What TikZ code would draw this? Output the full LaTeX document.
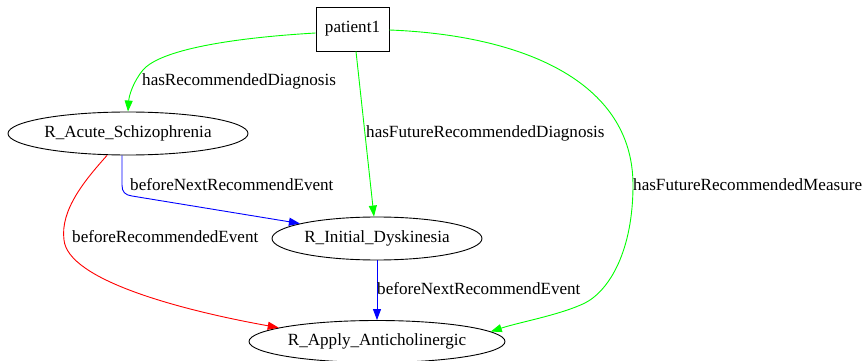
\documentclass[tikz,border=0pt]{standalone}
\usepackage{fontspec}
\setmainfont{Liberation Serif}
\usetikzlibrary{arrows.meta,shapes.geometric}
\begin{document}
\begin{tikzpicture}[x=1pt,y=-1pt,
  every node/.style={font=\fontsize{17.1}{19}\selectfont, inner sep=0pt},
  ell/.style={ellipse, draw, line width=0.9pt},
  boxnode/.style={rectangle, draw, line width=0.9pt, minimum width=73pt, minimum height=44pt},
  lbl/.style={anchor=base west},
  edge/.style={line width=0.9pt, -{Triangle[length=11pt,width=8pt]}},
  gedge/.style={edge, draw={rgb,255:red,0;green,255;blue,0}},
  bedge/.style={edge, draw=blue},
  redge/.style={edge, draw=red}]
\useasboundingbox (0,0) rectangle (863,361);
\node[boxnode] (p) at (352.5,29) {patient1};
\node[ell, minimum width=240pt, minimum height=43pt] (a) at (128,133.5) {R\_Acute\_Schizophrenia};
\node[ell, minimum width=210pt, minimum height=43pt] (i) at (377,238.5) {R\_Initial\_Dyskinesia};
\node[ell, minimum width=256pt, minimum height=42pt] (ap) at (377,341.5) {R\_Apply\_Anticholinergic};
% edges
\draw[gedge] ([yshift=-4pt]p.west) .. controls (230,38) and (160,50) .. (143,70) .. controls (133,82) and (129,96) .. (a.north);
\draw[gedge] ([xshift=3.5pt]p.south) -- ([xshift=-3pt]i.north);
\draw[gedge] ([yshift=-1pt]p.east) .. controls (520,35) and (633,80) .. (633,185) .. controls (633,250) and (610,290) .. (585,303) .. controls (560,315) and (520,322) .. (ap.5.6);
\draw[bedge] ([xshift=-6pt]a.south) -- (122,185) .. controls (122,192) and (125,195) .. (132,196) -- (i.169);
\draw[redge] ([xshift=-21pt]a.south) .. controls (85,180) and (60,210) .. (64,240) .. controls (68,280) and (180,310) .. (ap.172);
\draw[bedge] (i.south) -- (ap.north);
% labels
\node[lbl] (l1) at (142,85.5) {hasRecommendedDiagnosis};
\node[lbl] (l2) at (366,138) {hasFutureRecommendedDiagnosis};
\node[lbl] (l3) at (633,190.5) {hasFutureRecommendedMeasure};
\node[lbl] (l4) at (130,190.5) {beforeNextRecommendEvent};
\node[lbl] (l5) at (72,242.5) {beforeRecommendedEvent};
\node[lbl] (l6) at (377,294) {beforeNextRecommendEvent};
\end{tikzpicture}
\end{document}
